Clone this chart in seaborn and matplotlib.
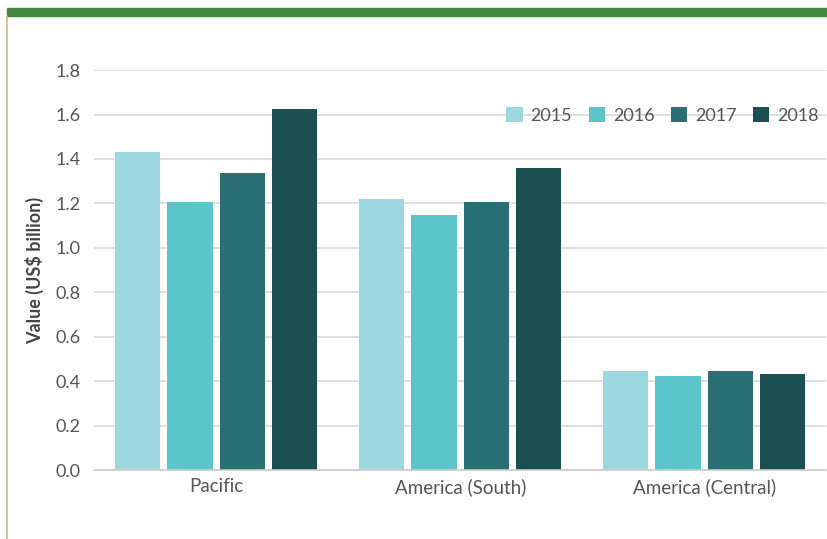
import pandas as pd
import matplotlib.pyplot as plt
import seaborn as sns

# chart values
regions = ['Pacific', 'America (South)', 'America (Central)']
years = ['2015', '2016', '2017', '2018']
val_2015 = [1.43, 1.22, 0.446]
val_2016 = [1.205, 1.148, 0.423]
val_2017 = [1.337, 1.206, 0.446]
val_2018 = [1.625, 1.36, 0.432]
colors = ['#9dd7df', '#5bc5cb', '#2a6f75', '#1b4f52']

rows = []
for yr, vals in zip(years, [val_2015, val_2016, val_2017, val_2018]):
    for reg, v in zip(regions, vals):
        rows.append({'Region': reg, 'Year': yr, 'Value': v})
df = pd.DataFrame(rows)

sns.set_style('white')
plt.rcParams['font.family'] = ['Lato', 'DejaVu Sans']

fig = plt.figure(figsize=(8.27, 5.39), dpi=100)
ax = fig.add_axes([0.114, 0.128, 0.885, 0.742])

sns.barplot(data=df, x='Region', y='Value', hue='Year', order=regions,
            hue_order=years, palette=colors, width=0.86, gap=0.14,
            saturation=1, linewidth=0, ax=ax)

ax.set_ylim(0, 1.8)
ax.set_yticks([0, 0.2, 0.4, 0.6, 0.8, 1.0, 1.2, 1.4, 1.6, 1.8])
ax.set_yticklabels(['0.0', '0.2', '0.4', '0.6', '0.8', '1.0', '1.2', '1.4', '1.6', '1.8'])
ax.yaxis.grid(True, color='#d9d9d9', linewidth=1.2)
ax.set_axisbelow(True)
ax.set_xlim(-0.5, 2.5)

for s in ['top', 'right', 'left']:
    ax.spines[s].set_visible(False)
ax.spines['bottom'].set_color('#cccccc')
ax.spines['bottom'].set_linewidth(1.2)

ax.tick_params(axis='y', length=0, labelsize=13, labelcolor='#555555', pad=10)
ax.tick_params(axis='x', length=0, labelsize=13.5, labelcolor='#555555', pad=6)
# category separator ticks
ax.set_xticks([-0.5, 0.5, 1.5, 2.5], minor=True)
ax.tick_params(axis='x', which='minor', length=6, color='#cccccc', width=1)

ax.set_xlabel('')
ax.set_ylabel('Value (US\\$ billion)', fontsize=13, fontweight='bold',
              color='#444444', labelpad=8)

ax.legend(loc='upper right', bbox_to_anchor=(1.0, 0.925), ncol=4, frameon=False,
          fontsize=13, handlelength=0.9, handleheight=0.9, handletextpad=0.45,
          columnspacing=0.9, labelcolor='#555555', borderaxespad=0)

# decorative frame: green top band and thin left rule
fig.patches.append(plt.Rectangle((0.008, 0.97), 0.992, 0.015,
                                 transform=fig.transFigure, color='#44873e'))
fig.add_artist(plt.Line2D([0.0085, 0.0085], [0.0, 0.97],
                          transform=fig.transFigure, color='#c8bd80', linewidth=1.2))

fig.savefig('out.png', dpi=100)
